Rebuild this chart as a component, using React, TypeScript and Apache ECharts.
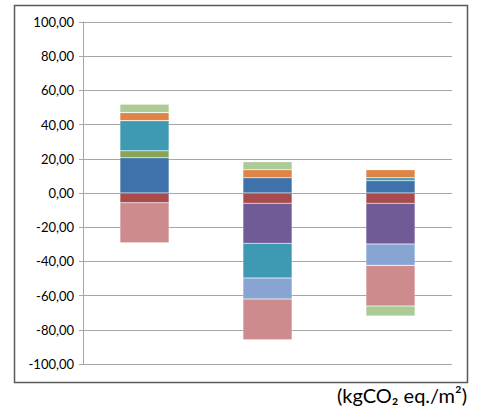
import React, { useEffect, useRef } from "react";
import * as echarts from "echarts";

const categories = ["A", "B", "C"];
const seriesNames = ["S1", "S2", "S3", "S4", "S5", "S6", "S7", "S8", "S9"];
const s1Blue = [20.6, 8.9, 7.2];
const s2Red = [-5.7, -6.0, -6.0];
const s3Olive = [4.1, null, null];
const s4Purple = [null, -23.4, -23.8];
const s5Teal = [17.6, -20.3, 1.7];
const s6LightBlue = [null, -12.3, -12.5];
const s7Orange = [4.7, 4.7, 4.7];
const s8Pink = [-23.4, -23.8, -23.8];
const s9LightGreen = [4.9, 4.7, -5.8];
const yTicks = [-100, -80, -60, -40, -20, 0, 20, 40, 60, 80, 100];

const seriesData = [s1Blue, s2Red, s3Olive, s4Purple, s5Teal, s6LightBlue, s7Orange, s8Pink, s9LightGreen];
const colors = ["#3F72AA", "#A84B4C", "#86A655", "#705B96", "#3E9AB2", "#88A4D2", "#DE8545", "#CE8B8E", "#ADCB96"];

export default function App() {
  const ref = useRef<HTMLDivElement>(null);
  useEffect(() => {
    if (!ref.current) return;
    const chart = echarts.init(ref.current, null, { renderer: "svg" });
    chart.setOption({
      animation: false,
      grid: { left: 83, right: 33, top: 22, bottom: 53 },
      xAxis: {
        type: "category",
        data: categories,
        axisLine: { show: false },
        axisTick: { show: false },
        axisLabel: { show: false },
        splitLine: { show: false },
      },
      yAxis: {
        type: "value",
        min: yTicks[0],
        max: yTicks[yTicks.length - 1],
        interval: 20,
        axisLine: { show: true, lineStyle: { color: "#A6A6A6", width: 1 } },
        axisTick: { show: true, length: 4, lineStyle: { color: "#A6A6A6" } },
        axisLabel: {
          margin: 9,
          color: "#000",
          fontFamily: "Lato, 'Open Sans', sans-serif",
          fontSize: 13,
          formatter: (v: number) => v.toFixed(2).replace(".", ","),
        },
        splitLine: { show: true, lineStyle: { color: "#A6A6A6", width: 1 } },
      },
      series: seriesData.map((d, i) => ({
        name: seriesNames[i],
        type: "bar",
        stack: "total",
        data: d,
        barWidth: "40%",
        itemStyle: { color: colors[i], borderColor: "rgba(255,255,255,0.35)", borderWidth: 0.6 },
      })),
      graphic: [
        {
          type: "rect",
          shape: { x: 14.5, y: 5.5, width: 453, height: 377 },
          style: { fill: "none", stroke: "#595959", lineWidth: 1.5 },
          silent: true,
        },
        {
          type: "text",
          right: 18,
          top: 385,
          style: {
            text: "(kgCO₂ eq./m²)",
            fontSize: 20,
            fontFamily: "Lato, 'Open Sans', sans-serif",
            fill: "#000",
          },
        },
      ],
    });
    return () => chart.dispose();
  }, []);
  return (
    <div
      ref={ref}
      style={{ position: "absolute", left: 0, top: 0, width: 485, height: 417, background: "#fff" }}
    />
  );
}
